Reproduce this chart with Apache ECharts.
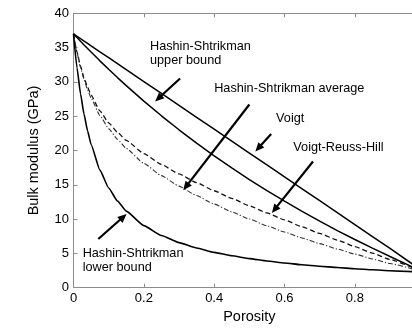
<!DOCTYPE html>
<html>
<head>
<meta charset="utf-8">
<script src="https://cdn.jsdelivr.net/npm/echarts@6/dist/echarts.min.js"></script>
<style>
  html, body { margin: 0; padding: 0; background: #fff; }
  #chart { width: 412px; height: 328px; }
</style>
</head>
<body>
<div id="chart"></div>
<script>
// Bulk modulus of a rock/fluid mixture versus porosity, for several mixing models.
const porosity   = [0, 0.01, 0.02, 0.03, 0.04, 0.05, 0.075, 0.1, 0.125, 0.15, 0.2, 0.25, 0.3, 0.35, 0.4, 0.45, 0.5, 0.55, 0.6, 0.65, 0.7, 0.75, 0.8, 0.85, 0.9, 0.965];
const voigt      = [37, 36.65, 36.3, 35.96, 35.61, 35.26, 34.39, 33.53, 32.66, 31.79, 30.05, 28.31, 26.58, 24.84, 23.1, 21.36, 19.63, 17.89, 16.15, 14.41, 12.68, 10.94, 9.2, 7.46, 5.73, 3.4];
const hsUpper    = [37, 36.46, 35.92, 35.39, 34.87, 34.35, 33.07, 31.84, 30.63, 29.46, 27.2, 25.06, 23.02, 21.08, 19.23, 17.46, 15.77, 14.15, 12.61, 11.12, 9.7, 8.33, 7.02, 5.76, 4.55, 3.0];
const vrh        = [37, 34.35, 32.29, 30.62, 29.24, 28.07, 25.77, 24.04, 22.65, 21.48, 19.55, 17.96, 16.58, 15.31, 14.13, 13.01, 11.94, 10.9, 9.88, 8.88, 7.91, 6.94, 5.99, 5.04, 4.11, 2.9];
const hsAverage  = [37, 34.26, 32.1, 30.34, 28.87, 27.62, 25.11, 23.19, 21.63, 20.31, 18.13, 16.34, 14.8, 13.43, 12.19, 11.06, 10.01, 9.03, 8.11, 7.24, 6.42, 5.64, 4.9, 4.19, 3.52, 2.7];
const hsLower    = [37, 32.05, 28.27, 25.28, 22.87, 20.88, 17.14, 14.54, 12.63, 11.16, 9.05, 7.61, 6.57, 5.78, 5.15, 4.65, 4.24, 3.9, 3.6, 3.35, 3.13, 2.94, 2.77, 2.62, 2.48, 2.33];

// Callout labels (text box top-left) and arrows (tail -> head), in data units.
const calloutTexts  = ['Hashin-Shtrikman\nupper bound', 'Hashin-Shtrikman average', 'Voigt', 'Voigt-Reuss-Hill', 'Hashin-Shtrikman\nlower bound'];
const calloutAnchor = [[0.2175, 36.2], [0.400, 30.0], [0.576, 25.65], [0.625, 21.5], [0.026, 6.05]];
const arrowTails    = [[0.303, 30.5], [0.500, 26.7], [0.562, 22.4], [0.681, 18.4], [0.0705, 7.1]];
const arrowHeads    = [[0.232, 27.15], [0.312, 14.2], [0.517, 19.85], [0.564, 10.9], [0.151, 10.75]];

const FONT = '"Liberation Sans", Arial, Helvetica, sans-serif';
const AXIS_GREY = '#8c8c8c';

const pairs = ys => porosity.map((x, i) => [x, ys[i]]);

const chart = echarts.init(document.getElementById('chart'), null, { renderer: 'canvas' });

const lineSeries = (name, ys, type, width, color, smooth) => ({
  name, type: 'line', data: pairs(ys), showSymbol: false, smooth, smoothMonotone: 'x',
  lineStyle: { color, width, type }, z: 3, animation: false
});

chart.setOption({
  animation: false,
  backgroundColor: '#fff',
  grid: { left: 73.5, right: -13.2, top: 13.3, bottom: 40.3, containLabel: false, outerBoundsMode: 'none' },
  xAxis: [{
    type: 'value', min: 0, max: 1, interval: 0.2,
    name: 'Porosity', nameLocation: 'middle', nameGap: 21,
    nameTextStyle: { fontFamily: FONT, fontSize: 14.5, color: '#000' },
    axisLine: { show: true, lineStyle: { color: AXIS_GREY, width: 1 } },
    axisTick: { show: true, inside: true, length: 4, lineStyle: { color: AXIS_GREY } },
    axisLabel: { fontFamily: FONT, fontSize: 13, color: '#000', margin: 4,
      formatter: v => (Math.abs(v) < 1e-9 ? '0' : String(+v.toFixed(1))) },
    splitLine: { show: false }
  }, {
    type: 'value', position: 'top', min: 0, max: 1, interval: 0.2,
    axisLine: { show: true, lineStyle: { color: AXIS_GREY, width: 1 } },
    axisTick: { show: true, inside: true, length: 4, lineStyle: { color: AXIS_GREY } },
    axisLabel: { show: false }, splitLine: { show: false }
  }],
  yAxis: {
    type: 'value', min: 0, max: 40, interval: 5,
    name: 'Bulk modulus (GPa)', nameLocation: 'middle', nameGap: 32, nameRotate: 90,
    nameTextStyle: { fontFamily: FONT, fontSize: 14.5, color: '#000' },
    axisLine: { show: true, lineStyle: { color: AXIS_GREY, width: 1 } },
    axisTick: { show: true, inside: true, length: 4, lineStyle: { color: AXIS_GREY } },
    axisLabel: { fontFamily: FONT, fontSize: 13, color: '#000', margin: 4.5 },
    splitLine: { show: false }
  },
  series: [
    lineSeries('Voigt', voigt, 'solid', 1.5, '#000', false),
    lineSeries('Hashin-Shtrikman upper bound', hsUpper, 'solid', 1.5, '#000', false),
    lineSeries('Voigt-Reuss-Hill', vrh, [5, 3], 1.3, '#111', 0.15),
    lineSeries('Hashin-Shtrikman average', hsAverage, [5, 2, 1.2, 2], 1.1, '#333', 0.15),
    lineSeries('Hashin-Shtrikman lower bound', hsLower, 'solid', 1.6, '#000', 0.15)
  ]
});

// Callout texts and arrows, placed through the grid's coordinate system.
function buildCallouts() {
  const els = [];
  calloutTexts.forEach((t, i) => {
    const p = chart.convertToPixel({ gridIndex: 0 }, calloutAnchor[i]);
    els.push({
      type: 'text', z: 10, silent: true,
      style: { text: t, x: p[0], y: p[1], fill: '#000', font: '12.7px ' + FONT,
               align: 'left', verticalAlign: 'top', lineHeight: 14 }
    });
  });
  arrowTails.forEach((tail, i) => {
    const a = chart.convertToPixel({ gridIndex: 0 }, tail);
    const b = chart.convertToPixel({ gridIndex: 0 }, arrowHeads[i]);
    const dx = b[0] - a[0], dy = b[1] - a[1];
    const len = Math.hypot(dx, dy), ux = dx / len, uy = dy / len;
    const headLen = 9, headHalf = 4;
    const bx = b[0] - ux * headLen, by = b[1] - uy * headLen;
    els.push({
      type: 'line', z: 10, silent: true,
      shape: { x1: a[0], y1: a[1], x2: bx + ux * 1, y2: by + uy * 1 },
      style: { stroke: '#000', lineWidth: 2.2 }
    });
    els.push({
      type: 'polygon', z: 10, silent: true,
      shape: { points: [[b[0], b[1]], [bx - uy * headHalf, by + ux * headHalf], [bx + uy * headHalf, by - ux * headHalf]] },
      style: { fill: '#000' }
    });
  });
  chart.setOption({ graphic: els });
}
buildCallouts();
</script>
</body>
</html>
